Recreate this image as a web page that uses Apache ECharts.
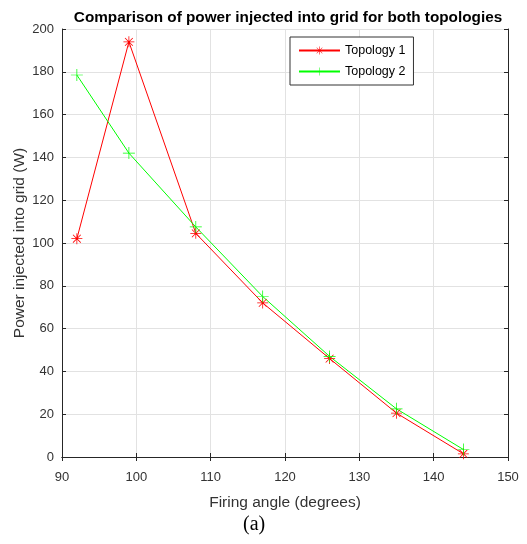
<!DOCTYPE html>
<html><head><meta charset="utf-8">
<script src="https://cdn.jsdelivr.net/npm/echarts@6/dist/echarts.min.js"></script>
<style>html,body{margin:0;padding:0;background:#fff}#c{width:527px;height:544px}</style>
</head><body><div id="c"></div>
<script>
const angles = [92, 99, 108, 117, 126, 135, 144];
const topology1 = [102, 194, 104.5, 72, 46, 20.5, 1.5];
const topology2 = [178.5, 142, 107.5, 75, 47, 22.5, 3.5];
const xTicks = [90, 100, 110, 120, 130, 140, 150];
const yTicks = [0, 20, 40, 60, 80, 100, 120, 140, 160, 180, 200];

const plusPath = 'path://M-0.6,-10L0.6,-10L0.6,10L-0.6,10Z M-10,-0.6L10,-0.6L10,0.6L-10,0.6Z';
const starPath = 'path://M-0.7,-10L0.7,-10L0.7,10L-0.7,10Z M-10,-0.7L10,-0.7L10,0.7L-10,0.7Z M-7.6,-6.6L-6.6,-7.6L7.6,6.6L6.6,7.6Z M6.6,-7.6L7.6,-6.6L-6.6,7.6L-7.6,6.6Z';

const chart = echarts.init(document.getElementById('c'));
const font = 'Liberation Sans, Arial, sans-serif';
const axisLine = {show: true, lineStyle: {color: '#262626', width: 1}};
chart.setOption({
  animation: false,
  textStyle: {fontFamily: font},
  title: {text: 'Comparison of power injected into grid for both topologies', left: 283, top: 5, textAlign: 'center',
    textStyle: {fontSize: 15.3, fontWeight: 'bold', color: '#000', fontFamily: font}},
  grid: {left: 62, right: 19, top: 29, bottom: 87, outerBoundsMode: 'none'},
  legend: {
    data: ['Topology 1', 'Topology 2'], orient: 'vertical', left: 290, top: 37,
    padding: [7, 8, 7, 8], itemGap: 8, itemWidth: 41, itemHeight: 10,
    borderColor: '#333', borderWidth: 1, backgroundColor: '#fff',
    textStyle: {fontSize: 12.5, color: '#000', fontFamily: font}
  },
  xAxis: [{
    type: 'value', min: 90, max: 150, interval: 10,
    name: 'Firing angle (degrees)', nameLocation: 'middle', nameGap: 38,
    nameTextStyle: {fontSize: 15.5, color: '#333'},
    axisLine: axisLine, axisTick: {inside: true, length: 4, lineStyle: {color: '#262626'}},
    axisLabel: {fontSize: 13, color: '#333', margin: 14},
    splitLine: {show: true, lineStyle: {color: '#e2e2e2'}}
  }, {
    type: 'value', position: 'top', min: 90, max: 150, interval: 10,
    axisLine: axisLine, axisTick: {inside: true, length: 4, lineStyle: {color: '#262626'}},
    axisLabel: {show: false}, splitLine: {show: false}
  }],
  yAxis: [{
    type: 'value', min: 0, max: 200, interval: 20,
    name: 'Power injected into grid (W)', nameLocation: 'middle', nameGap: 34, nameMoveOverlap: false,
    nameTextStyle: {fontSize: 15.5, color: '#333'},
    axisLine: axisLine, axisTick: {inside: true, length: 4, lineStyle: {color: '#262626'}},
    axisLabel: {fontSize: 13, color: '#333', margin: 8},
    splitLine: {show: true, lineStyle: {color: '#e2e2e2'}}
  }, {
    type: 'value', position: 'right', min: 0, max: 200, interval: 20,
    axisLine: axisLine, axisTick: {inside: true, length: 4, lineStyle: {color: '#262626'}},
    axisLabel: {show: false}, splitLine: {show: false}
  }],
  graphic: [{type: 'text', left: 243, top: 515, style: {text: '(a)', font: '20px "Liberation Serif", "Times New Roman", serif', fill: '#000'}}],
  series: [{
    name: 'Topology 1', type: 'line', data: angles.map((a, i) => [a, topology1[i]]),
    symbol: starPath, symbolSize: 11, showAllSymbol: true,
    lineStyle: {color: '#ff0000', width: 1}, itemStyle: {color: '#ff0000'}
  }, {
    name: 'Topology 2', type: 'line', data: angles.map((a, i) => [a, topology2[i]]),
    symbol: plusPath, symbolSize: 12, showAllSymbol: true,
    lineStyle: {color: '#00ff00', width: 1}, itemStyle: {color: '#00ff00'}
  }]
});
</script></body></html>
